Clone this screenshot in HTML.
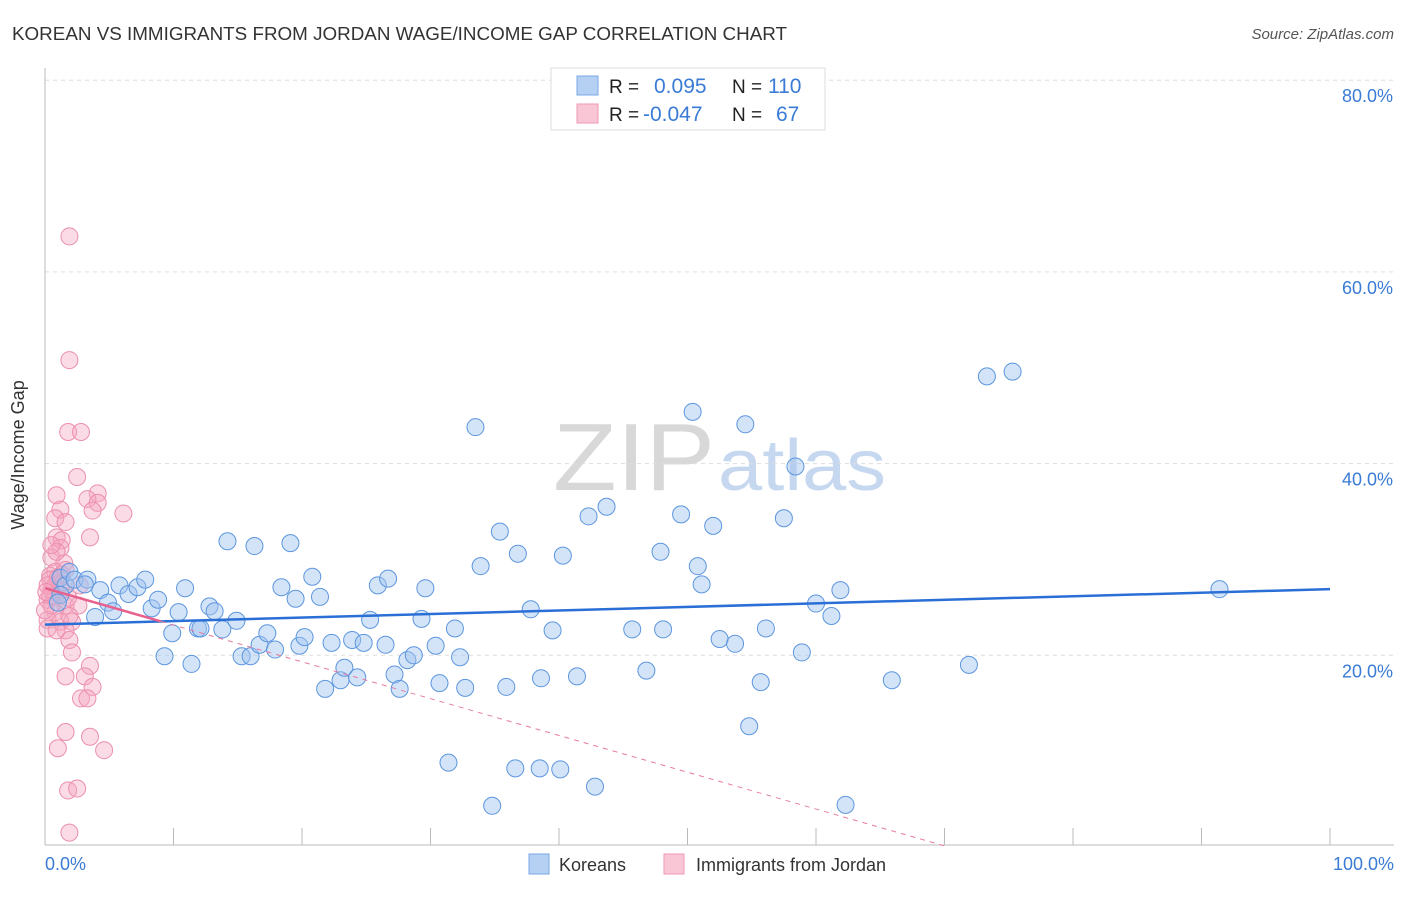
<!DOCTYPE html>
<html><head><meta charset="utf-8"><style>
body{margin:0;background:#fff;font-family:"Liberation Sans",sans-serif;}
svg text{font-family:"Liberation Sans",sans-serif;}
</style></head><body>
<svg id="chart" width="1406" height="892" viewBox="0 0 1406 892">
<text x="12" y="40" font-size="18" fill="#333" textLength="775" lengthAdjust="spacingAndGlyphs">KOREAN VS IMMIGRANTS FROM JORDAN WAGE/INCOME GAP CORRELATION CHART</text>
<text x="1394" y="39" font-size="15" fill="#555" text-anchor="end" font-style="italic">Source: ZipAtlas.com</text>
<g>
<text x="553" y="490" font-size="96" font-family="Liberation Serif,serif" fill="#d8d8d8" textLength="162" lengthAdjust="spacingAndGlyphs">ZIP</text>
<text x="718" y="490" font-size="72" fill="#c6d8f0" textLength="168" lengthAdjust="spacingAndGlyphs">atlas</text>
</g>
<g id="grid"></g>
<g id="axes"></g>
<g id="pts"></g>
<g id="trend"></g>
<text x="24" y="455" font-size="18" fill="#333" text-anchor="middle" transform="rotate(-90 24 455)">Wage/Income Gap</text>
<text x="45" y="870" font-size="18" fill="#3a7bd5">0.0%</text>
<text x="1394" y="870" font-size="18" fill="#3a7bd5" text-anchor="end">100.0%</text>
<g>
<rect x="551" y="68" width="274" height="62" fill="#fff" stroke="#ddd"/>
<rect x="577" y="76" width="21" height="19" fill="#b5d0f3" stroke="#7aa8e4"/>
<rect x="577" y="104" width="21" height="19" fill="#f9c6d6" stroke="#ee9ab6"/>
<text x="609" y="93" font-size="19" fill="#222">R = </text>
<text x="654" y="93" font-size="21" fill="#3a7bd5">0.095</text>
<text x="732" y="93" font-size="19" fill="#222">N = </text>
<text x="768" y="93" font-size="21" fill="#3a7bd5">110</text>
<text x="609" y="121" font-size="19" fill="#222">R = </text>
<text x="643" y="121" font-size="21" fill="#3a7bd5">-0.047</text>
<text x="732" y="121" font-size="19" fill="#222">N = </text>
<text x="776" y="121" font-size="21" fill="#3a7bd5">67</text>
</g>
<g>
<rect x="529" y="854" width="20" height="20" fill="#b5d0f3" stroke="#7aa8e4"/>
<text x="559" y="871" font-size="18" fill="#333">Koreans</text>
<rect x="664" y="854" width="20" height="20" fill="#f9c6d6" stroke="#ee9ab6"/>
<text x="696" y="871" font-size="18" fill="#333">Immigrants from Jordan</text>
</g>
</svg>
<script>
const yTicks=[20,40,60,80];
const yTickLabels=["20.0%","40.0%","60.0%","80.0%"];
const xTicks=[0,10,20,30,40,50,60,70,80,90,100];
const blueX=[1.2,1.6,1.9,2.3,3.3,4.3,4.9,5.3,3.9,5.8,6.5,7.2,7.8,8.3,8.8,9.9,10.4,10.9,9.3,11.4,11.9,12.1,12.8,13.2,13.8,14.2,14.9,15.3,16.0,16.3,16.7,17.3,17.9,18.4,19.1,19.5,19.8,20.2,20.8,21.4,21.8,22.3,23.0,23.3,23.9,24.3,24.8,25.3,25.9,26.5,26.7,27.2,27.6,28.2,28.7,29.3,29.6,30.4,30.7,31.4,31.9,32.3,32.7,33.5,33.9,34.8,35.4,35.9,36.6,36.8,37.8,38.5,38.6,39.5,40.1,40.3,41.4,42.3,42.8,43.7,45.7,46.8,47.9,48.1,49.5,50.4,50.8,51.1,52.0,52.5,53.7,54.5,54.8,55.7,56.1,57.5,58.4,58.9,60.0,61.2,61.9,62.3,65.9,71.9,73.3,75.3,91.4,3.1,1.2,1.0];
const blueY=[28.1,27.3,28.7,27.9,27.9,26.8,25.5,24.6,24.0,27.3,26.4,27.1,27.9,24.9,25.8,22.3,24.5,27.0,19.9,19.1,22.8,22.8,25.1,24.6,22.7,31.9,23.6,19.9,19.9,31.4,21.1,22.3,20.6,27.1,31.7,25.9,21.0,21.9,28.2,26.1,16.5,21.3,17.4,18.7,21.6,17.7,21.3,23.7,27.3,21.1,28.0,18.0,16.5,19.5,20.0,23.8,27.0,21.0,17.1,8.8,22.8,19.8,16.6,43.8,29.3,4.3,32.9,16.7,8.2,30.6,24.8,8.2,17.6,22.6,8.1,30.4,17.8,34.5,6.3,35.5,22.7,18.4,30.8,22.7,34.7,45.4,29.3,27.4,33.5,21.7,21.2,44.1,12.6,17.2,22.8,34.3,39.7,20.3,25.4,24.1,26.8,4.4,17.4,19.0,49.1,49.6,26.9,27.4,26.3,25.5];
const pinkX=[1.9,1.9,1.8,2.8,2.5,0.9,4.1,3.3,1.2,4.1,3.7,0.8,1.6,6.1,0.9,1.3,3.5,1.2,0.5,1.5,0.4,0.8,0.4,1.2,0.5,0.2,0.8,1.3,1.6,2.6,0.8,0.2,1.2,2.1,0.2,1.6,1.9,2.1,3.5,1.6,3.1,3.7,2.8,3.3,1.6,3.5,1.0,4.6,1.8,2.5,1.9,0.8,1.0,0.2,1.3,0.4,0.5,0.0,1.8,0.9,0.5,1.6,2.7,1.9,0.9,0.1];
const pinkY=[63.7,50.8,43.3,43.3,38.6,36.7,36.9,36.3,35.2,35.9,35.1,34.3,33.9,34.8,32.3,32.0,32.3,31.2,30.2,29.6,28.3,28.7,27.9,27.4,26.8,25.8,26.1,26.8,25.2,25.2,24.5,23.7,23.5,23.5,22.8,22.6,21.6,20.3,18.9,17.8,17.8,16.7,15.5,15.5,12.0,11.5,10.3,10.1,5.9,6.1,1.5,27.3,28.1,27.3,28.4,26.2,25.2,24.7,26.0,30.8,31.5,28.9,27.3,24.1,22.6,26.6];
const blueTrend=[23.2,26.9];
const pinkTrend=[27.0,-0.384];
const X0=45,X1=1330,Y0=847,YS=191.7/20;
const xs=v=>X0+(X1-X0)*v/100;
const ys=v=>Y0-v*YS;
const NS="http://www.w3.org/2000/svg";
function mk(t,a,p){const e=document.createElementNS(NS,t);for(const k in a)e.setAttribute(k,a[k]);p.appendChild(e);return e;}
const grid=document.getElementById('grid'),axes=document.getElementById('axes'),pts=document.getElementById('pts'),tr=document.getElementById('trend');
yTicks.forEach((t,i)=>{
 const l=mk('line',{x1:X0,x2:1394,y1:ys(t),y2:ys(t),stroke:'#ddd','stroke-dasharray':'4,4'},grid);
 
 
 const tx=mk('text',{x:1393,y:ys(t)+22,'font-size':18,fill:'#3a7bd5','text-anchor':'end'},grid);
 tx.textContent=yTickLabels[i];
 
 
});
mk('line',{x1:X0,x2:X0,y1:68,y2:845,stroke:'#bbb'},axes);
mk('line',{x1:X0,x2:1394,y1:845,y2:845,stroke:'#bbb'},axes);
xTicks.forEach(t=>{
 const l=mk('line',{x1:xs(t),x2:xs(t),y1:828,y2:845,stroke:'#bbb'},axes);
 
 
});
pinkX.forEach((x,i)=>{
 const c=mk('circle',{cx:xs(x),cy:ys(pinkY[i]),r:8.5,fill:'rgba(244,166,192,0.4)',stroke:'#eb8fad','stroke-width':1},pts);
 
 
});
blueX.forEach((x,i)=>{
 const c=mk('circle',{cx:xs(x),cy:ys(blueY[i]),r:8.5,fill:'rgba(160,196,240,0.45)',stroke:'#5c96de','stroke-width':1},pts);
 
 
});
const bl=mk('line',{x1:xs(0),y1:ys(blueTrend[0]),x2:xs(100),y2:ys(blueTrend[1]),stroke:'#2a6fd6','stroke-width':2.5},tr);


const pe=-pinkTrend[0]/pinkTrend[1];
const pd=mk('line',{x1:xs(9),y1:ys(pinkTrend[0]+pinkTrend[1]*9),x2:xs(pe),y2:ys(0),stroke:'#e87ca0','stroke-width':1,'stroke-dasharray':'5,5'},tr);


const ps=mk('line',{x1:xs(0),y1:ys(pinkTrend[0]),x2:xs(9),y2:ys(pinkTrend[0]+pinkTrend[1]*9),stroke:'#e8608c','stroke-width':2.5},tr);


</script>
</body></html>
